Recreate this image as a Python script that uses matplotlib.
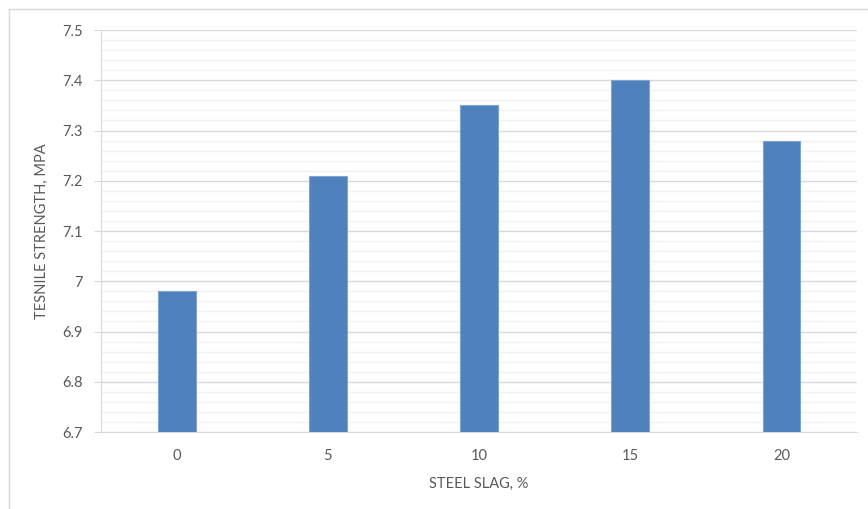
import matplotlib.pyplot as plt
from matplotlib.patches import Rectangle
from matplotlib.ticker import MultipleLocator

# steel slag content vs tensile strength
slag_pct = ['0', '5', '10', '15', '20']
strength = [6.98, 7.21, 7.35, 7.40, 7.28]
y_ticks = [6.7, 6.8, 6.9, 7.0, 7.1, 7.2, 7.3, 7.4, 7.5]

plt.rcParams['font.family'] = ['Lato', 'DejaVu Sans']
text_color = '#595959'

fig = plt.figure(figsize=(8.68, 5.09), dpi=100)
ax = fig.add_axes([101 / 868, 1 - 432 / 509, 756 / 868, 402 / 509])

x = range(len(slag_pct))
ax.bar(x, strength, width=0.25, color='#4F81BD', edgecolor='#7FA4D3',
       linewidth=0.8, zorder=3)

ax.set_xlim(-0.5, len(slag_pct) - 0.5)
ax.set_ylim(y_ticks[0], y_ticks[-1])
ax.set_xticks(list(x))
ax.set_xticklabels(slag_pct)
ax.set_yticks(y_ticks)
ax.set_yticklabels([f'{v:g}' for v in y_ticks])
ax.yaxis.set_minor_locator(MultipleLocator(0.02))

ax.grid(axis='y', which='major', color='#D9D9D9', linewidth=1.0, zorder=0)
ax.grid(axis='y', which='minor', color='#F2F2F2', linewidth=1.0, zorder=0)

for side in ['top', 'right']:
    ax.spines[side].set_visible(False)
ax.spines['left'].set_color('#D9D9D9')
ax.spines['bottom'].set_color('#D9D9D9')

ax.tick_params(axis='y', which='major', length=5, color='#D9D9D9',
               labelsize=10.5, labelcolor=text_color, pad=8)
ax.tick_params(axis='y', which='minor', length=0)
ax.tick_params(axis='x', length=0, labelsize=10.5, labelcolor=text_color, pad=12)

ax.set_xlabel('STEEL SLAG, %', fontsize=10.5, color=text_color, labelpad=10)
ax.set_ylabel('TESNILE STRENGTH, MPA', fontsize=10.5, color=text_color, labelpad=10)

# chart area frame
fig.patches.append(Rectangle((9 / 868, -0.05), 1.0, 1.05 - 9 / 509,
                             transform=fig.transFigure, fill=False,
                             edgecolor='#D9D9D9', linewidth=1.0))

fig.savefig('out.png', dpi=100)
